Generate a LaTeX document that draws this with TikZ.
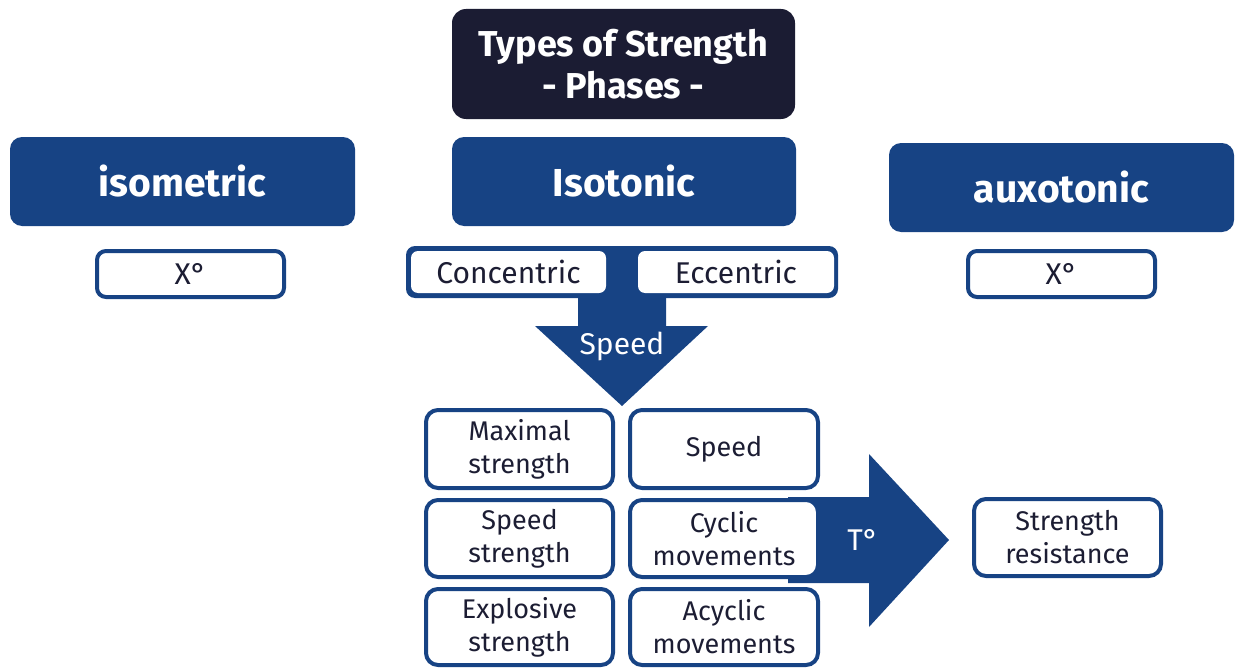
\documentclass[tikz,border=0pt]{standalone}
\usepackage{fontspec}
\setmainfont{Fira Sans}
\usetikzlibrary{calc}
\definecolor{navy}{HTML}{1B1C33}
\definecolor{royal}{HTML}{174384}
\definecolor{ink}{HTML}{1C1D33}
\tikzset{
  px/.style={x=1pt,y=-1pt},
  titlebox/.style={fill=navy,rounded corners=14pt,inner sep=0pt,outer sep=0pt,
    text=white,align=center,font=\fontsize{36}{42}\selectfont\bfseries},
  headbox/.style={fill=royal,rounded corners=12pt,inner sep=0pt,outer sep=0pt,
    text=white,font=\fontsize{39}{46}\selectfont\bfseries},
  tagbox/.style={draw=royal,fill=white,line width=4pt,rounded corners=9pt,inner sep=0pt,
    outer sep=0pt,text=ink,font=\fontsize{30}{36}\selectfont},
  cellbox/.style={draw=royal,fill=white,line width=4pt,rounded corners=12pt,inner sep=0pt,
    outer sep=0pt,text=ink,align=center,font=\fontsize{27}{33}\selectfont},
  plainwhite/.style={fill=white,rounded corners=7pt,inner sep=0pt,outer sep=0pt,
    text=ink,font=\fontsize{30}{36}\selectfont},
  arrowlabel/.style={text=white,inner sep=0pt,font=\fontsize{30}{36}\selectfont},
  blockarrow/.style={fill=royal},
}
\begin{document}
\begin{tikzpicture}[px]
\useasboundingbox (0,0) rectangle (1235,669);

% title and the three phases
\node[titlebox,minimum width=343pt,minimum height=110pt] (title) at (623.5,64)
  {Types of Strength\\- Phases -};
\node[headbox,minimum width=345pt,minimum height=89pt] (iso) at (182.5,181.5) {isometric};
\node[headbox,minimum width=344pt,minimum height=89pt] (isot) at (624,181.5) {Isotonic};
\node[headbox,minimum width=345pt,minimum height=89pt] (auxo) at (1061.5,187.5) {auxotonic};

% angle tags
\node[tagbox,minimum width=187pt,minimum height=46pt] (xl) at (190.5,274) {X°};
\node[tagbox,minimum width=187pt,minimum height=46pt] (xr) at (1061.5,274) {X°};

% downward arrow from the isotonic pair
\coordinate (dtip) at (622,406);
\fill[blockarrow] (578,290) -- (666,290) -- (666,326) -- (708,326) -- (dtip)
  -- (535,326) -- (578,326) -- cycle;
\node[arrowlabel] (speedlbl) at (622,346) {Speed};

% isotonic pair: blue frame holding two white boxes
\node[fill=royal,rounded corners=9pt,minimum width=432pt,minimum height=52pt,
  inner sep=0pt,outer sep=0pt] (pair) at (622,272) {};
\node[plainwhite,minimum width=195pt,minimum height=42pt] (conc) at (508.5,272) {Concentric};
\node[plainwhite,minimum width=196pt,minimum height=42pt] (ecc) at (736,272) {Eccentric};

% rightward arrow towards strength resistance
\fill[blockarrow] (788,497) -- (869,497) -- (869,454) -- (949,540) -- (869,627)
  -- (869,583) -- (788,583) -- cycle;
\node[arrowlabel] (tlbl) at (863,540) {T°};

% grid of strength types
\node[cellbox,minimum width=187pt,minimum height=78pt] (maxs) at (519.5,449) {Maximal\\strength};
\node[cellbox,minimum width=188pt,minimum height=78pt] (spd) at (724,449) {Speed};
\node[cellbox,minimum width=187pt,minimum height=77pt] (spds) at (519.5,538.5) {Speed\\strength};
\node[cellbox,minimum width=188pt,minimum height=77pt] (cyc) at (724,538.5) {Cyclic\\movements};
\node[cellbox,minimum width=187pt,minimum height=76pt] (expl) at (519.5,627) {Explosive\\strength};
\node[cellbox,minimum width=188pt,minimum height=76pt] (acyc) at (724,627) {Acyclic\\movements};

\node[cellbox,minimum width=187pt,minimum height=77pt] (sres) at (1067.5,537.5) {Strength\\resistance};
\end{tikzpicture}
\end{document}
